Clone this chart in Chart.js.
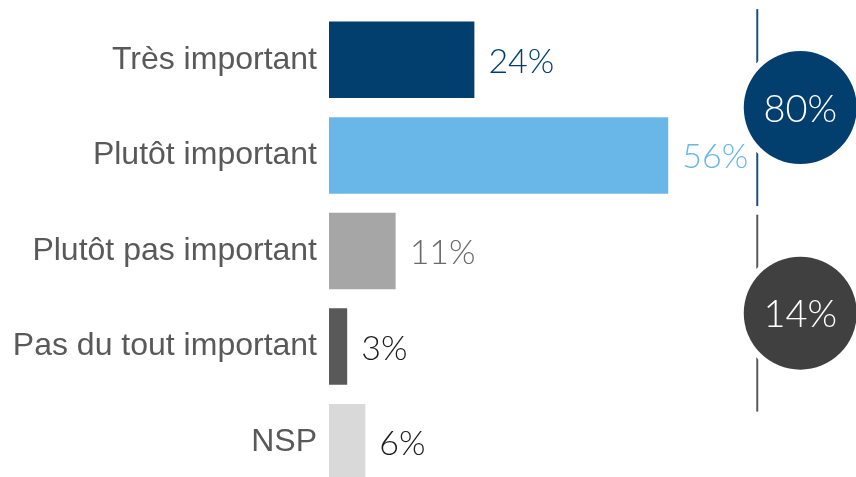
<!DOCTYPE html>
<html>
<head>
<meta charset="utf-8">
<script src="https://cdn.jsdelivr.net/npm/chart.js@4"></script>
<style>
  html, body { margin: 0; padding: 0; background: #fff; overflow: hidden; width: 856px; height: 477px; }
  #wrap { width: 856px; height: 500px; position: relative; }
</style>
</head>
<body>
<div id="wrap"><canvas id="importanceChart"></canvas></div>
<script>
// Answers and their share (%)
const categories = ['Très important', 'Plutôt important', 'Plutôt pas important', 'Pas du tout important', 'NSP'];
const values = [24, 56, 11, 3, 6];
const barColors = ['#023e6e', '#69b7e9', '#a6a6a6', '#595959', '#d9d9d9'];
const labelColors = ['#023e6e', '#69b7e9', '#6a6a6a', '#1a1a1a', '#1a1a1a'];

// Grouped totals shown in the circles on the right
const groupMembers = [[0, 1], [2, 3]];
const groupCenters = [0.5, 2.65]; // position on the category axis
const groupColors = ['#023e6e', '#404040'];
const groupLineColors = ['#1f4e79', '#595959'];

const ctx = document.getElementById('importanceChart').getContext('2d');

// value labels next to each bar
const valueLabels = {
  id: 'valueLabels',
  afterDatasetsDraw(chart) {
    const c = chart.ctx;
    const meta = chart.getDatasetMeta(0);
    c.save();
    c.font = '300 34px Lato';
    c.textBaseline = 'middle';
    c.textAlign = 'left';
    meta.data.forEach((bar, i) => {
      c.fillStyle = labelColors[i];
      c.fillText(values[i] + '%', bar.x + 14, bar.y + 2);
    });
    c.restore();
  }
};

// vertical brackets + total circles
const groupTotals = {
  id: 'groupTotals',
  afterDraw(chart) {
    const c = chart.ctx;
    const xs = chart.scales.x;
    const ys = chart.scales.y;
    const step = ys.getPixelForValue(1) - ys.getPixelForValue(0);
    const lineX = xs.getPixelForValue(70.7);
    const circX = xs.getPixelForValue(77.8);
    const r = 56.5;
    c.save();
    groupMembers.forEach((members, g) => {
      const cy = ys.getPixelForValue(groupCenters[g]);
      const total = members.reduce((acc, i) => acc + values[i], 0);
      // bracket line
      c.strokeStyle = groupLineColors[g];
      c.lineWidth = 2;
      c.beginPath();
      c.moveTo(lineX, cy - step * 1.03);
      c.lineTo(lineX, cy + step * 1.03);
      c.stroke();
      // circle with white ring
      c.beginPath();
      c.arc(circX, cy, r + 6, 0, Math.PI * 2);
      c.fillStyle = '#fff';
      c.fill();
      c.beginPath();
      c.arc(circX, cy, r, 0, Math.PI * 2);
      c.fillStyle = groupColors[g];
      c.fill();
      c.fillStyle = '#fff';
      c.font = '300 38px Lato';
      c.textAlign = 'center';
      c.textBaseline = 'middle';
      c.fillText(total + '%', circX, cy + 2);
    });
    c.restore();
  }
};

new Chart(ctx, {
  type: 'bar',
  data: {
    labels: categories,
    datasets: [{
      data: values,
      backgroundColor: barColors,
      barPercentage: 0.8,
      categoryPercentage: 1
    }]
  },
  options: {
    indexAxis: 'y',
    responsive: true,
    maintainAspectRatio: false,
    animation: false,
    layout: { padding: { top: 12, bottom: 10, left: 0, right: 0 } },
    plugins: {
      legend: { display: false },
      tooltip: { enabled: false }
    },
    scales: {
      x: {
        display: false,
        min: 0,
        max: 87
      },
      y: {
        grid: { display: false, drawTicks: false },
        border: { display: false },
        ticks: {
          color: '#595959',
          padding: 12,
          font: { family: 'Liberation Sans', size: 32 }
        },
        afterFit(scale) {
          scale.width = 329; // labels column
          scale.paddingTop = 0;
          scale.paddingBottom = 0;
        }
      }
    }
  },
  plugins: [valueLabels, groupTotals]
});
</script>
</body>
</html>
